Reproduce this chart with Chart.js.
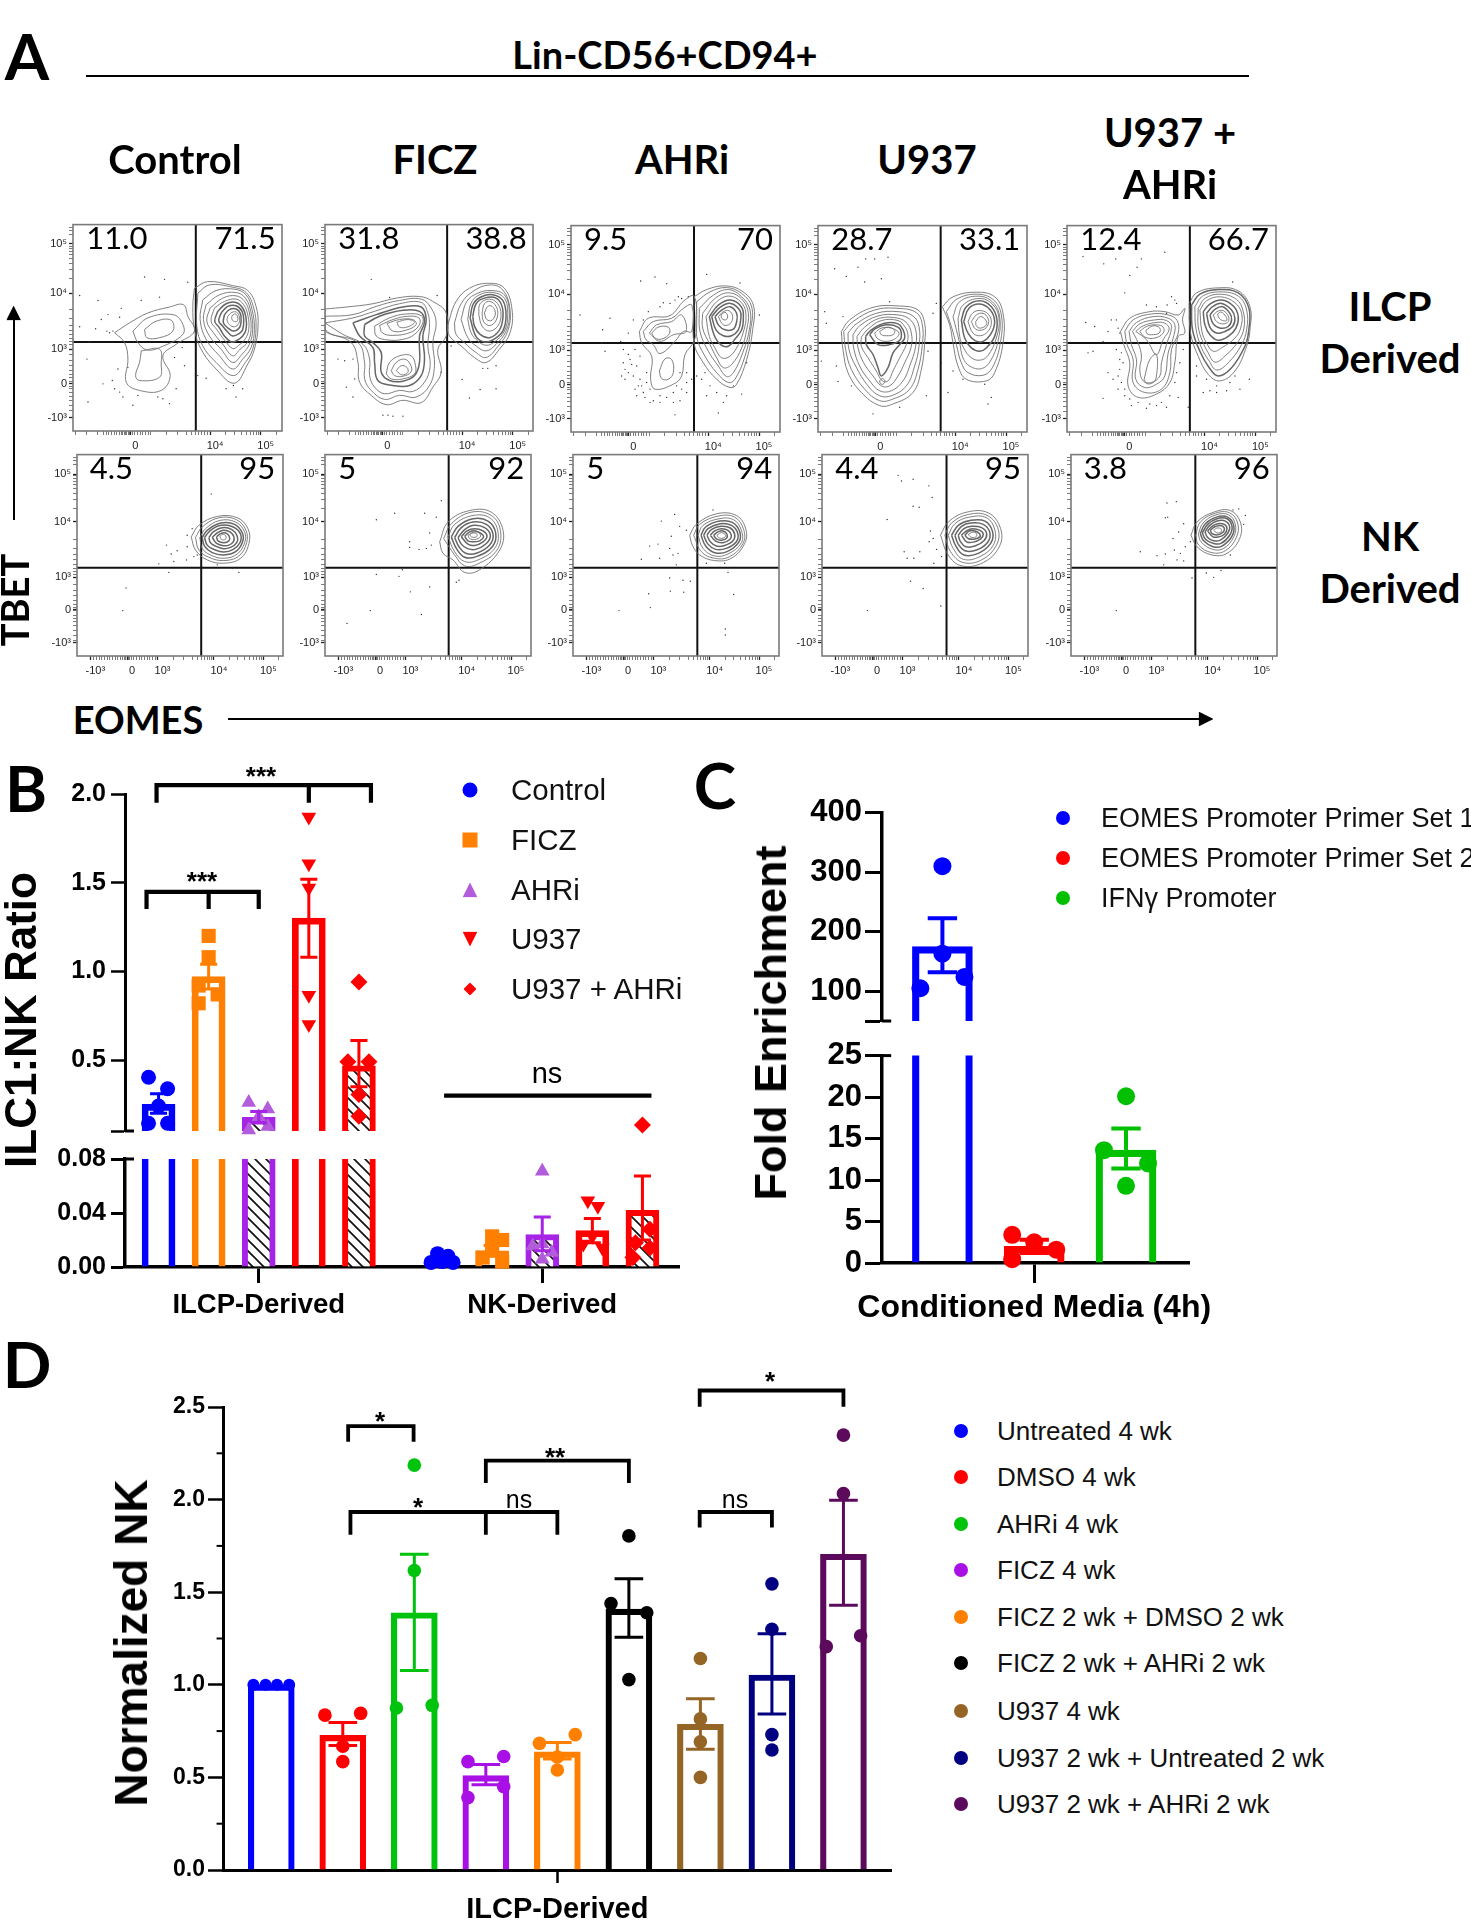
<!DOCTYPE html>
<html>
<head>
<meta charset="utf-8">
<title>ILC1 NK figure</title>
<script src="https://cdn.jsdelivr.net/npm/chart.js@4/dist/chart.umd.min.js"></script>
<style>
html, body { margin: 0; padding: 0; background: #fff; }
#page { position: relative; width: 1471px; height: 1920px; overflow: hidden; }
canvas { position: absolute; }
.t { position: absolute; white-space: nowrap; color: #000; transform: translate(-50%, -50%); }
.l { position: absolute; white-space: nowrap; color: #111; transform: translate(0, -50%); }
.m { position: absolute; transform: translate(-50%, -50%); }
.b { position: absolute; background: #000; }
</style>
</head>
<body>
<div id="page"></div>
<script>
// ---------- panel A: flow plots, values are channel units ----------
var conditions = ['Control', 'FICZ', 'AHRi', 'U937'];
var ilcpLeft = ['11.0', '31.8', '9.5', '28.7', '12.4'];
var ilcpRight = ['71.5', '38.8', '70', '33.1', '66.7'];
var nkLeft = ['4.5', '5', '5', '4.4', '3.8'];
var nkRight = ['95', '92', '94', '95', '96'];

var ilcpXTicks = [172, 412, 564];
var ilcpXLabels = ['0', '10⁴', '10⁵'];
var nkXTicks = [40, 150, 241, 410, 558];
var nkXLabels = ['-10³', '0', '10³', '10⁴', '10⁵'];
var ilcpYTicks = [58, 208, 378, 483, 585];
var nkYTicks = [60, 204, 372, 471, 572];
var flowYLabels = ['10⁵', '10⁴', '10³', '0', '-10³'];
var ilcpXMinor = [8, 42, 75, 92, 100, 108, 116, 124, 132, 140, 146, 150, 154, 158, 162, 166, 170, 178, 186, 194, 202, 210, 218, 226, 234, 280, 315, 340, 356, 368, 378, 386, 394, 403, 458, 485, 505, 520, 532, 542, 550, 557, 610];
var nkXMinor = [50, 58, 66, 74, 82, 90, 98, 106, 114, 122, 130, 136, 142, 146, 150, 154, 158, 162, 170, 178, 186, 194, 202, 210, 218, 226, 234, 290, 320, 345, 360, 372, 382, 390, 398, 404, 456, 482, 502, 516, 528, 538, 546, 552, 605];
var flowYMinor = [8, 18, 30, 65, 73, 81, 91, 103, 118, 137, 163, 258, 285, 305, 320, 333, 345, 355, 365, 395, 412, 428, 442, 455, 465, 475, 490, 498, 508, 520, 535, 550, 565];

// contour rings, flat x,y lists
var ilcpContours = [
  [
    [165,350,210,320,265,290,330,272,372,265,385,300,405,345,350,385,310,420,332,480,305,525,240,525,200,500,205,430,195,380],
    [220,345,265,305,340,295,368,320,370,355,300,395,262,402,235,380],
    [255,340,290,315,335,312,340,345,300,365,262,365],
    [245,405,300,400,305,445,300,485,240,495,228,480,240,440],
    [405,215,445,195,520,207,565,222,590,270,596,330,585,400,565,445,525,503,470,460,425,400,405,340,400,270],
    [415,230,450,205,520,212,560,228,583,275,590,335,580,400,558,440,522,480,470,440,430,390,412,330],
    [430,250,470,222,525,218,560,235,578,280,585,340,575,395,550,430,520,460,480,420,440,370,422,310],
    [440,265,480,235,530,228,558,245,574,285,580,340,570,385,548,415,520,440,485,400,450,360,432,310],
    [452,275,490,245,530,238,556,255,570,290,575,340,565,378,542,400,520,420,490,385,462,350,442,315],
    [465,275,495,255,530,248,553,265,566,300,568,340,558,368,538,388,520,398,495,372,472,340,455,315],
    [475,285,500,262,530,258,550,275,560,305,560,340,550,360,530,375,515,378,495,360,480,335,466,315],
    [485,290,505,270,530,268,548,285,553,310,550,340,540,352,520,360,505,348,490,330,478,315],
    [495,295,510,280,530,278,543,292,545,315,540,335,522,345,505,335,492,320],
    [505,300,518,288,532,288,540,302,538,322,525,332,510,325,503,312],
    [518,298,528,293,535,302,533,315,523,315,517,308]
  ],
  [
    [796,278,860,272,940,262,1010,245,1080,240,1120,255,1160,290,1160,360,1135,400,1145,470,1120,515,1085,562,1030,555,980,568,935,540,900,500,895,440,875,380,796,340],
    [796,300,880,295,950,270,1020,252,1085,248,1115,275,1130,320,1120,380,1125,450,1110,510,1070,545,1020,540,975,552,935,525,915,490,915,440,895,380,796,345],
    [796,320,880,305,945,285,1020,262,1085,258,1105,290,1110,330,1105,390,1112,450,1095,500,1060,528,1020,525,975,535,945,515,930,480,930,430,910,385,850,355],
    [880,320,950,295,1030,272,1085,272,1100,310,1090,360,1095,430,1085,480,1050,510,1000,510,955,495,945,440,940,395,900,360],
    [915,325,960,300,1030,282,1080,285,1095,315,1080,360,1080,440,1065,480,1030,497,990,495,965,470,965,410,940,380,915,360],
    [945,330,990,305,1040,293,1085,298,1090,320,1065,355,1030,370,985,372,950,360],
    [960,328,1000,310,1045,300,1078,305,1080,325,1055,348,1000,358,968,350],
    [982,322,1020,310,1060,310,1070,325,1040,342,1000,345],
    [1012,318,1045,310,1065,318,1045,332,1020,333],
    [980,475,990,440,1020,420,1055,420,1068,450,1065,475,1030,490,995,490],
    [995,465,1010,440,1035,430,1052,445,1055,468,1030,482,1005,480],
    [1010,465,1025,450,1042,455,1045,470,1028,478],
    [1165,325,1190,255,1230,215,1290,200,1335,215,1358,280,1352,350,1320,400,1280,440,1245,425,1205,390,1170,360],
    [1185,320,1205,262,1240,225,1290,205,1330,220,1352,280,1345,345,1315,392,1280,425,1250,410,1215,380,1190,355],
    [1205,310,1222,255,1255,230,1295,222,1335,235,1350,290,1340,345,1310,385,1280,405,1250,390,1225,365],
    [1225,310,1235,260,1260,235,1300,228,1335,245,1345,295,1335,345,1305,378,1280,388,1255,375,1235,350],
    [1232,305,1242,262,1268,240,1300,235,1330,252,1340,298,1330,345,1300,372,1275,378,1250,362],
    [1240,300,1250,262,1275,245,1310,245,1328,270,1330,310,1318,345,1290,365,1262,355,1245,330],
    [1258,295,1262,262,1290,248,1315,262,1325,295,1315,330,1290,345,1268,330],
    [1268,290,1275,262,1292,255,1310,270,1315,295,1305,320,1288,328,1272,315],
    [1275,290,1285,270,1298,270,1308,290,1298,312,1282,310]
  ],
  [
    [238,345,265,305,330,297,372,252,402,238,410,320,402,375,375,415,365,480,340,505,285,520,272,490,275,420,245,380],
    [250,345,280,315,335,305,370,275,395,265,395,345,370,345,345,375,300,412,280,385,258,370],
    [268,350,290,325,335,315,365,295,378,345,340,355,300,375],
    [275,350,295,332,325,332,328,352,305,368,285,365],
    [298,465,315,428,335,430,340,470,325,490,305,488],
    [402,240,440,218,495,207,545,222,580,265,578,340,560,430,530,505,510,515,470,490,430,440,402,380],
    [410,255,450,225,500,212,545,230,575,270,572,340,555,420,525,490,505,500,470,470,435,420,410,360],
    [418,275,460,235,505,218,545,240,570,280,568,340,548,410,520,470,500,482,475,450,445,405,420,345],
    [428,290,465,245,508,228,548,250,565,290,560,340,545,395,515,445,490,455,470,425,450,385,428,335],
    [438,300,470,255,510,238,548,262,558,300,552,340,535,385,510,420,485,425,465,395,448,360],
    [448,300,475,265,512,250,545,272,550,305,545,340,525,368,505,390,482,385,462,355],
    [455,300,480,272,512,260,540,282,542,310,535,340,515,358,490,358,468,340],
    [465,300,485,280,510,270,530,290,530,315,520,338,495,340,475,325],
    [475,300,490,285,507,282,518,300,510,322,490,325],
    [483,295,495,287,503,298,498,310,486,306]
  ],
  [
    [845,345,870,310,940,272,1020,268,1075,280,1095,320,1095,380,1085,460,1060,530,1000,565,960,570,905,530,865,470,850,400],
    [852,345,880,315,945,280,1015,275,1070,288,1088,325,1088,385,1075,460,1050,520,1000,550,960,555,915,520,875,460,858,400],
    [865,350,890,322,950,290,1015,285,1060,298,1078,330,1078,390,1065,450,1040,510,995,540,960,540,925,510,888,450,868,400],
    [880,355,900,328,955,298,1015,295,1050,308,1068,340,1068,390,1050,450,1030,495,995,525,960,525,930,495,900,450,882,395],
    [892,360,915,332,960,305,1015,305,1042,320,1055,350,1055,390,1035,440,1015,480,990,510,965,510,940,480,912,440,895,395],
    [905,362,925,338,965,312,1015,312,1035,330,1045,355,1040,385,1020,425,1000,465,985,495,968,495,950,465,925,425,905,390],
    [918,360,935,340,975,320,1015,322,1030,340,1035,365,1020,385,1000,410,985,455,965,480,955,455,940,415,920,385],
    [930,355,945,338,980,325,1015,332,1025,350,1020,372,990,385,955,385],
    [945,350,965,335,995,335,1018,350,1005,368,975,375,952,365],
    [960,345,985,332,1005,342,1000,355,980,358,965,355],
    [960,495,968,488,976,495,970,505,962,503],
    [1148,270,1180,240,1250,226,1305,240,1330,290,1330,380,1305,470,1280,495,1220,490,1195,450,1180,380,1170,325],
    [1160,285,1190,248,1250,232,1300,248,1325,295,1322,380,1298,455,1270,478,1225,470,1205,440,1190,385,1175,330],
    [1180,300,1200,255,1255,238,1298,255,1320,300,1315,375,1292,435,1265,458,1230,450,1210,425,1200,380],
    [1195,305,1210,265,1258,245,1298,262,1318,305,1310,365,1285,418,1262,432,1235,425,1212,395,1200,360],
    [1205,310,1220,270,1260,252,1295,270,1312,310,1305,360,1280,395,1260,405,1235,395,1215,365],
    [1212,315,1228,275,1260,262,1292,280,1305,315,1295,350,1270,375,1245,372,1225,350],
    [1225,315,1240,288,1265,282,1288,295,1295,320,1285,345,1262,358,1240,350],
    [1235,315,1250,295,1270,290,1285,305,1285,325,1270,340,1248,338],
    [1248,315,1262,300,1278,310,1280,325,1262,335,1250,328]
  ],
  [
    [212,345,240,305,300,285,345,285,385,295,405,275,398,310,405,350,385,360,375,440,360,500,320,535,265,545,235,510,240,440,222,385],
    [225,345,250,310,305,292,355,295,382,312,385,350,365,400,360,470,335,520,285,530,250,500,250,430,232,385],
    [238,345,260,318,310,300,355,305,375,325,370,365,355,410,345,480,320,505,285,515,258,490,260,430,245,385],
    [248,345,270,322,315,310,350,312,365,330,350,385,335,440,330,480,305,500,280,495,270,460,275,420,265,380],
    [258,345,280,328,318,318,345,320,358,338,340,370,320,415,290,370],
    [270,345,290,330,320,325,340,332,340,350,315,365,285,362],
    [288,342,310,328,330,335,328,350,305,355,292,352],
    [283,490,300,430,320,415,320,480,310,500,290,503],
    [418,260,440,228,500,213,565,222,600,270,600,340,590,390,555,465,510,495,475,475,445,420,422,350],
    [425,265,450,232,505,218,565,228,597,275,596,345,585,390,545,455,505,480,478,455,450,405,428,340],
    [435,270,458,238,510,225,565,238,590,280,590,340,575,385,535,440,500,462,478,435,455,395,438,335],
    [445,275,465,245,510,232,560,248,580,285,582,335,565,375,525,420,495,438,475,410,458,375,445,330],
    [450,280,470,252,512,240,555,258,575,290,572,335,555,365,515,395,490,405,470,380,456,345],
    [460,285,480,262,515,250,550,268,565,300,558,335,535,360,505,372,480,355,465,325],
    [470,290,488,270,515,260,545,280,555,305,548,330,525,345,500,350,480,332],
    [480,295,495,278,518,270,540,290,545,310,535,330,512,335,490,322],
    [490,295,505,283,520,282,535,298,535,315,520,322,500,315],
    [503,292,513,286,528,300,530,312,518,312,508,305]
  ]
];
var nkContours = [
  [
    [392,270,415,235,470,208,530,212,562,245,565,290,540,335,490,350,440,340,405,310],
    [405,272,425,240,475,212,528,218,556,250,558,288,535,328,490,342,445,332,415,310],
    [418,272,435,245,478,220,525,225,552,255,552,288,530,322,490,335,450,325,425,305],
    [425,272,440,250,480,228,522,232,546,260,545,288,525,315,490,325,455,318,432,298],
    [432,272,450,250,482,235,518,240,540,262,538,288,518,308,490,316,460,308,440,295],
    [445,272,458,255,485,242,514,248,530,268,528,288,510,302,488,306,465,298,450,288],
    [455,272,470,258,488,250,508,255,520,270,518,285,505,295,485,296,468,290],
    [468,270,480,260,495,258,506,268,505,282,490,288,472,282],
    [478,268,487,262,496,268,494,278,483,278]
  ],
  [
    [1140,285,1165,225,1230,190,1295,195,1330,250,1320,310,1260,370,1215,378,1180,340,1150,320],
    [1152,275,1175,230,1235,195,1295,205,1322,250,1312,310,1255,352,1215,358,1185,325],
    [1165,270,1185,232,1240,205,1290,212,1315,255,1305,305,1255,340,1215,345,1185,315],
    [1175,270,1195,238,1240,215,1285,222,1308,258,1298,300,1250,330,1215,332,1190,305],
    [1185,272,1205,242,1240,225,1280,232,1300,262,1290,295,1250,320,1218,320,1198,300],
    [1195,272,1215,248,1242,235,1275,242,1292,265,1280,290,1248,308,1222,305,1205,292],
    [1205,270,1222,252,1245,245,1270,252,1282,268,1270,285,1245,296,1225,292],
    [1215,268,1230,255,1248,252,1265,260,1272,270,1260,282,1240,285,1225,282],
    [1225,265,1240,256,1258,258,1262,270,1245,278,1230,275],
    [1230,263,1240,258,1252,262,1250,270,1235,270]
  ],
  [
    [390,265,410,232,470,200,530,205,558,245,555,290,515,335,465,342,420,325,398,295],
    [402,265,420,232,475,207,525,210,552,248,550,290,510,330,465,335,425,315],
    [415,265,430,235,478,215,522,218,545,250,545,288,505,322,465,328,430,305],
    [424,265,438,240,480,222,518,226,540,254,538,285,502,315,465,318,438,298],
    [432,265,445,245,482,230,515,235,534,258,530,285,500,305,468,308,445,292],
    [442,265,455,248,484,238,512,243,525,262,520,282,495,296,470,298,452,285],
    [452,265,465,252,485,245,505,250,515,265,510,278,490,288,468,283],
    [462,265,475,255,490,252,502,262,500,275,485,280,470,276],
    [472,265,486,257,498,266,490,274,476,272]
  ],
  [
    [1142,265,1165,225,1220,195,1285,197,1322,245,1318,300,1270,348,1205,358,1165,325],
    [1155,265,1175,228,1225,202,1282,205,1315,248,1308,298,1265,340,1210,348,1172,315],
    [1165,265,1185,230,1228,210,1280,212,1305,250,1300,295,1260,330,1210,338,1180,305],
    [1175,265,1195,235,1230,220,1275,222,1298,255,1292,290,1255,320,1212,325,1188,298],
    [1185,265,1205,238,1232,228,1270,232,1290,258,1282,288,1250,310,1215,312,1195,292],
    [1195,265,1212,245,1235,238,1265,242,1280,260,1272,282,1245,298,1218,300,1202,285],
    [1205,265,1222,250,1238,245,1260,250,1270,262,1262,276,1240,286,1220,285],
    [1215,265,1228,252,1245,252,1258,260,1260,270,1242,277,1225,275],
    [1225,263,1236,256,1248,258,1250,268,1236,272]
  ],
  [
    [422,265,440,225,490,195,540,190,570,225,568,275,530,320,485,325,440,300],
    [436,265,450,225,495,198,538,197,562,228,558,272,525,312,485,318,445,295],
    [444,262,458,228,497,203,535,203,555,232,550,270,520,305,487,308,452,285],
    [450,260,465,230,498,210,532,210,550,235,545,268,515,298,488,300,460,282],
    [456,258,472,232,500,215,530,215,545,238,538,265,512,290,490,290,466,278],
    [464,255,478,235,500,222,525,222,538,240,530,262,510,280,490,282,472,272],
    [472,252,485,238,502,230,522,232,530,245,522,262,505,270,488,270],
    [480,250,492,240,504,236,518,238,522,250,512,260,498,264,485,260],
    [490,250,500,243,512,246,512,255,500,258]
  ]
];
var ilcpDots = [
  [60,237,115,252,255,181,315,188,385,197,300,242,245,252,185,276,145,295,180,303,125,310,60,332,108,338,142,345,150,350,160,345,88,378,82,430,175,460,205,455,158,495,165,520,180,530,130,505,190,545,220,570,295,545,310,550,330,565,235,540,350,520,375,450,345,425,368,395,415,480,440,488,500,520,530,545,550,520,522,510,85,560,288,648],
  [935,188,990,243,1133,237,835,430,855,435,880,430,885,490,860,515,880,545,970,600,985,600,1000,603,1030,603,1208,492,1230,548,1262,522,1310,520,1270,458,1285,458,1310,450,1145,470,1175,390],
  [242,192,285,180,320,200,440,172,60,295,150,305,128,340,182,375,125,380,135,405,205,350,220,310,265,285,310,258,355,240,210,430,190,440,205,470,195,490,235,510,225,400,240,420,230,450,260,470,250,530,270,560,300,540,345,598,340,560,360,555,380,500,425,490,440,540,475,592,520,510,545,535,540,198,598,295,560,440,490,560,190,400,205,415,215,445,195,460,185,480,220,480,240,490,260,500,225,520,245,510,270,520,230,540,255,545,280,555,300,560,320,545,340,530,350,510,365,520,380,530,395,490,410,480,380,470,360,470,435,470,450,510,470,530,500,540,250,310,300,270,330,260,345,250,365,245,385,240],
  [945,125,985,120,918,125,895,150,825,155,860,178,915,195,965,185,990,255,800,320,850,300,1130,260,795,285,1120,290,785,435,830,450,835,497,875,510,1100,540,940,595,1020,575,1165,530,1210,490,1275,505,1295,545,1285,565,1180,465,1145,440,1105,405],
  [100,118,162,140,198,125,275,125,345,105,240,175,262,150,225,228,108,318,135,330,185,310,205,335,160,375,130,405,115,410,175,470,160,548,210,430,205,480,225,520,245,570,290,578,350,575,385,545,415,575,440,450,470,490,500,530,530,525,570,520,598,490,548,195,375,250,352,265,200,310,210,350,175,345,200,400,215,410,220,440,210,460,190,490,215,500,205,520,225,540,240,550,265,560,300,565,320,570,335,560,360,540,375,500,380,470,390,440,400,400,440,480,460,530,480,525,500,510,540,500,555,480,380,260,365,240,350,290,320,270,290,265]
];
var nkDots = [
  [452,140,395,245,380,265,318,295,332,322,350,312,295,352,340,345,378,340,325,378,197,425,187,494,535,378,515,365,470,355,410,325,400,330,380,300],
  [950,218,1005,198,1095,198,1130,210,1145,160,1110,258,1050,285,1050,302,1078,308,1100,305,1115,295,950,384,1018,390,1028,370,1052,437,1110,422,1085,506,862,533,932,494,1190,408,1198,402],
  [460,188,345,202,305,222,360,238,380,250,335,268,295,292,270,298,245,338,330,305,340,325,355,320,300,335,350,355,330,395,370,402,392,405,332,435,267,443,372,438,272,485,178,494,505,378,522,445,497,550,497,568,440,350,495,350],
  [1015,83,1025,100,1060,95,1107,115,1117,150,1060,177,1078,180,982,217,1112,252,1120,275,1108,285,1033,315,1042,335,1062,335,1080,315,1130,308,1145,330,1122,350,1052,405,1090,427,1143,480,923,494],
  [350,167,378,163,345,212,352,210,400,230,385,255,368,275,270,315,320,327,345,322,372,310,390,320,405,300,420,285,340,355,380,340,400,343,425,395,468,380,490,393,512,372,198,494,548,188,565,185,585,205,580,232,540,325]
];

// ---------- panel B ----------
var bGroups = ['Control', 'FICZ', 'AHRi', 'U937', 'U937 + AHRi'];
var bSlots = [0, 1, 2, 3, 4, 5.66, 6.66, 7.66, 8.66, 9.66];
var bMeans = [0.25, 0.97, 0.177, 1.30, 0.468, 0.006, 0.012, 0.024, 0.027, 0.042];
var bErrLow = [0.2, 0.9, 0.145, 1.08, 0.35, 0.004, 0.008, 0.012, 0.018, 0.02];
var bErrHigh = [0.31, 1.04, 0.21, 1.52, 0.61, 0.008, 0.016, 0.037, 0.036, 0.0675];
// one list per bar, [offset from bar centre, value]
var bPoints = [
  [[-0.2, 0.403], [0.18, 0.338], [0, 0.241], [-0.2, 0.144], [0.18, 0.144]],
  [[0, 1.2], [0, 1.08], [-0.2, 0.92], [0.18, 0.87], [-0.2, 0.82]],
  [[-0.2, 0.26], [0.18, 0.224], [0, 0.18], [0.18, 0.125], [-0.2, 0.105]],
  [[0, 1.87], [0, 1.607], [0, 1.47], [0, 0.866], [0, 0.7]],
  [[0, 0.94], [-0.22, 0.49], [0.2, 0.49], [0, 0.306], [0, 0.183]],
  [[-0.09, 0.0099], [0.12, 0.008], [-0.22, 0.0034], [0.22, 0.0034], [0, 0.004]],
  [[0, 0.0227], [0.2, 0.02], [0, 0.0128], [-0.19, 0.007], [0.2, 0.004]],
  [[0, 0.071], [0, 0.017], [-0.19, 0.0156], [0.19, 0.011], [0, 0.0057]],
  [[-0.09, 0.049], [0.11, 0.045], [0, 0.0227], [-0.18, 0.017], [0.2, 0.014]],
  [[0, 0.134], [0.15, 0.028], [-0.14, 0.018], [0.15, 0.014], [-0.19, 0.007]]
];
var bBarColors = ['#0000ff', '#ff8000', '#a524e6', '#ff0000', '#ff0000', '#0000ff', '#ff8000', '#a524e6', '#ff0000', '#ff0000'];
var bPointColors = ['#0000ff', '#ff8000', '#b35cdb', '#ff0000', '#ff0000', '#0000ff', '#ff8000', '#b35cdb', '#ff0000', '#ff0000'];
var bUpperTicks = [0.1, 0.5, 1, 1.5, 2];
var bUpperLabels = ['', '0.5', '1.0', '1.5', '2.0'];
var bLowerTicks = [0, 0.04, 0.08];
var bLowerLabels = ['0.00', '0.04', '0.08'];
var bXTicks = [2, 7.66];
var bXLabels = ['ILCP-Derived', 'NK-Derived'];

// ---------- panel C ----------
var cSeries = ['EOMES Promoter Primer Set 1', 'EOMES Promoter Primer Set 2', 'IFNγ Promoter'];
var cSlots = [0, 1, 2];
var cMeans = [175, 2, 13.6];
var cErrLow = [132, 1.2, 11.4];
var cErrHigh = [222.6, 2.8, 16.2];
var cPoints = [
  [[0, 310], [0, 163], [0.24, 124], [-0.24, 105]],
  [[-0.24, 3.4], [0, 2.5], [0.24, 1.6], [-0.24, 0.46]],
  [[0, 20.1], [-0.24, 13.6], [0.24, 12], [0, 9.3]]
];
var cColors = ['#0000ff', '#ff0000', '#00c000'];
var cUpperTicks = [50, 100, 200, 300, 400];
var cUpperLabels = ['', '100', '200', '300', '400'];
var cLowerTicks = [0, 5, 10, 15, 20, 25];
var cXTicks = [1];
var cXLabels = ['Conditioned Media (4h)'];

// ---------- panel D ----------
var dSeries = ['Untreated 4 wk', 'DMSO 4 wk', 'AHRi 4 wk', 'FICZ 4 wk', 'FICZ 2 wk + DMSO 2 wk', 'FICZ 2 wk + AHRi 2 wk', 'U937 4 wk', 'U937 2 wk + Untreated 2 wk', 'U937 2 wk + AHRi 2 wk'];
var dSlots = [0, 1, 2, 3, 4, 5, 6, 7, 8];
var dMeans = [1, 0.727, 1.389, 0.51, 0.638, 1.409, 0.787, 1.053, 1.705];
var dErrLow = [1, 0.672, 1.077, 0.46, 0.6, 1.257, 0.652, 0.842, 1.429];
var dErrHigh = [1, 0.796, 1.705, 0.569, 0.688, 1.573, 0.925, 1.275, 1.996];
var dPoints = [
  [[-0.25, 1], [-0.08, 1], [0.08, 1], [0.25, 1]],
  [[-0.25, 0.836], [0.25, 0.846], [0, 0.668], [0, 0.585]],
  [[0, 2.186], [0, 1.617], [-0.25, 0.875], [0.25, 0.889]],
  [[0.25, 0.613], [-0.25, 0.585], [0.25, 0.45], [-0.25, 0.391]],
  [[0.25, 0.731], [-0.25, 0.684], [0, 0.61], [0, 0.54]],
  [[0, 1.804], [-0.25, 1.439], [0.25, 1.389], [0, 1.028]],
  [[0, 1.142], [0, 0.816], [0, 0.692], [0, 0.5]],
  [[0, 1.545], [0, 1.3], [0, 0.731], [0, 0.648]],
  [[0, 2.348], [0, 2.032], [0.24, 1.265], [-0.24, 1.206]]
];
var dColors = ['#0000ff', '#ff0000', '#00c30e', '#a810e6', '#ff8000', '#000000', '#956526', '#000080', '#5c0a5c'];
var dTicks = [0, 0.5, 1, 1.5, 2, 2.5];
var dLabels = ['0.0', '0.5', '1.0', '1.5', '2.0', '2.5'];
var dMinorTicks = [0.25, 0.75, 1.25, 1.75, 2.25];
var dXTicks = [4];
var dXLabels = ['ILCP-Derived'];

// significance brackets: left, optional middle, right, bar level, foot level
var bBrackets = [[-0.24, 1, 2, 1.448, 1.351], [-0.04, 3, 4.24, 2.05, 1.95], [5.7, null, 9.84, 0.3, 0.3]];
var dBrackets = [
  [1.075, null, 1.99, 2.397, 2.312],
  [3, null, 5, 2.21, 2.09],
  [1.107, 3, 4, 1.933, 1.81],
  [5.99, null, 7, 1.933, 1.85],
  [5.99, null, 8, 2.589, 2.502]
];

// ---------- helpers ----------
var page = document.getElementById('page');
var SANS = '"Liberation Sans", Arial, sans-serif';
var LATO = 'Lato, sans-serif';
Chart.defaults.font.family = SANS;
Chart.defaults.animation = false;
Chart.defaults.plugins.legend.display = false;
Chart.defaults.plugins.tooltip.enabled = false;

function text(str, x, y, size, weight, font, extra) {
  var d = document.createElement('div');
  d.className = 't';
  d.textContent = str;
  d.style.cssText = 'left:' + x + 'px;top:' + y + 'px;font:' + weight + ' ' + size + 'px ' + font + ';' + (extra || '');
  page.appendChild(d);
}
function sideText(str, x, y, size, extra) {
  var d = document.createElement('div');
  d.className = 'l';
  d.textContent = str;
  d.style.cssText = 'left:' + x + 'px;top:' + y + 'px;font:400 ' + size + 'px ' + SANS + ';' + (extra || '');
  page.appendChild(d);
}
function rect(x, y, w, h) {
  var d = document.createElement('div');
  d.className = 'b';
  d.style.cssText = 'left:' + x + 'px;top:' + y + 'px;width:' + w + 'px;height:' + h + 'px';
  page.appendChild(d);
}
function marker(shape, color, x, y, size) {
  var d = document.createElement('div');
  d.className = 'm';
  var s = 'left:' + x + 'px;top:' + y + 'px;width:' + size + 'px;height:' + size + 'px;background:' + color + ';';
  if (shape === 'circle') s += 'border-radius:50%;';
  if (shape === 'up') s += 'clip-path:polygon(50% 0,100% 100%,0 100%);';
  if (shape === 'down') s += 'clip-path:polygon(0 0,100% 0,50% 100%);';
  if (shape === 'diamond') s += 'clip-path:polygon(50% 0,100% 50%,50% 100%,0 50%);';
  d.style.cssText = s;
  page.appendChild(d);
}
function addCanvas(x, y, w, h) {
  var c = document.createElement('canvas');
  c.width = w;
  c.height = h;
  c.style.left = x + 'px';
  c.style.top = y + 'px';
  c.style.width = w + 'px';
  c.style.height = h + 'px';
  page.appendChild(c);
  return c.getContext('2d');
}
function pairs(flat) {
  var out = [];
  for (var i = 0; i < flat.length; i += 2) out.push({ x: flat[i], y: flat[i + 1] });
  return out;
}

// ---------- panel A drawing ----------
var frameBox = {
  id: 'frameBox',
  afterDatasetsDraw: function (chart) {
    var a = chart.chartArea, ctx = chart.ctx;
    ctx.save();
    ctx.strokeStyle = '#7a7a7a';
    ctx.lineWidth = 1.6;
    ctx.strokeRect(a.left, a.top, a.right - a.left, a.bottom - a.top);
    ctx.restore();
  }
};

// rings that read darker in the plots
var ilcpDense = [[10, 11, 12], [3, 4, 16, 17], [10, 11, 12], [6, 7, 15, 16], [9, 13, 14, 15]];
var nkDense = [3, 4, 5, 6, 7];

function flowPlot(cropX, cropY, chan, gate, rings, dots, dense, xMajor, xLabels, xMinor, yMajor, left, right) {
  var x0 = chan[0], x1 = chan[1], y0 = chan[2], y1 = chan[3];
  var px = cropX + x0 / 3, py = cropY + y0 / 3;
  var pw = (x1 - x0) / 3, ph = (y1 - y0) / 3;
  var yW = 38, xH = 24, pad = 6;
  var ctx = addCanvas(Math.round(px - yW), Math.round(py - pad), Math.round(pw + yW + pad), Math.round(ph + pad + xH));
  var ds = [];
  rings.forEach(function (r, i) {
    var pts = pairs(r);
    pts.push(pts[0]);
    var heavy = dense.indexOf(i) >= 0;
    ds.push({ data: pts, showLine: true, tension: 0.4, borderColor: heavy ? '#666' : '#727272', borderWidth: heavy ? 1.5 : 0.9, pointRadius: 0 });
  });
  ds.push({ data: pairs(dots), pointRadius: 0.7, pointBackgroundColor: '#333', pointBorderWidth: 0 });
  ds.push({ data: pairs([gate[0], y0, gate[0], y1]), showLine: true, borderColor: '#111', borderWidth: 2, pointRadius: 0, tension: 0 });
  ds.push({ data: pairs([x0, gate[1], x1, gate[1]]), showLine: true, borderColor: '#111', borderWidth: 2, pointRadius: 0, tension: 0 });
  var xVals = xMajor.concat(xMinor).map(function (v) { return x0 + v; });
  var yVals = yMajor.concat(flowYMinor).map(function (v) { return y0 + v; });
  function tickWidth(n) { return function (c) { return c.index < n ? 1.3 : 0.6; }; }
  new Chart(ctx, {
    type: 'scatter',
    data: { datasets: ds },
    options: {
      responsive: false,
      events: [],
      layout: { padding: { top: pad, right: pad } },
      scales: {
        x: {
          type: 'linear', min: x0, max: x1,
          afterBuildTicks: function (s) { s.ticks = xVals.map(function (v) { return { value: v }; }); },
          afterFit: function (s) { s.height = xH; },
          border: { display: false },
          grid: { drawOnChartArea: false, tickLength: 4, tickColor: '#222', tickWidth: tickWidth(xMajor.length) },
          ticks: {
            autoSkip: false, maxRotation: 0, minRotation: 0, color: '#222', padding: 4, labelOffset: 5,
            font: { size: 11 },
            callback: function (v, i) { return i < xLabels.length ? xLabels[i] : ''; }
          }
        },
        y: {
          type: 'linear', min: y0, max: y1, reverse: true,
          afterBuildTicks: function (s) { s.ticks = yVals.map(function (v) { return { value: v }; }); },
          afterFit: function (s) { s.width = yW; },
          border: { display: false },
          grid: { drawOnChartArea: false, tickLength: 4, tickColor: '#222', tickWidth: tickWidth(yMajor.length) },
          ticks: {
            autoSkip: false, color: '#222', padding: 2,
            font: { size: 11 },
            callback: function (v, i) { return i < flowYLabels.length ? flowYLabels[i] : ''; }
          }
        }
      }
    },
    plugins: [frameBox]
  });
  // gate percentages
  text(left, px + 13, py + 15, 31, 400, LATO, 'transform:translate(0,-50%);');
  text(right, px + pw - 7, py + 15, 31, 400, LATO, 'transform:translate(-100%,-50%);');
}

var ilcpPanels = [
  [60, 215, [40, 668, 22, 648], [409, 378]],
  [60, 215, [796, 1421, 22, 648], [1163, 378]],
  [560, 215, [33, 660, 24, 650], [402, 380]],
  [560, 215, [775, 1402, 24, 650], [1143, 380]],
  [1050, 215, [52, 678, 24, 650], [420, 380]]
];
var nkPanels = [
  [60, 445, [50, 667, 20, 632], [422, 364]],
  [60, 445, [796, 1414, 20, 632], [1167, 364]],
  [560, 445, [40, 658, 20, 632], [413, 364]],
  [560, 445, [787, 1404, 20, 632], [1160, 364]],
  [1050, 445, [62, 680, 20, 632], [435, 364]]
];
ilcpPanels.forEach(function (p, i) {
  flowPlot(p[0], p[1], p[2], p[3], ilcpContours[i], ilcpDots[i], ilcpDense[i], ilcpXTicks, ilcpXLabels, ilcpXMinor, ilcpYTicks, ilcpLeft[i], ilcpRight[i]);
});
nkPanels.forEach(function (p, i) {
  flowPlot(p[0], p[1], p[2], p[3], nkContours[i], nkDots[i], nkDense, nkXTicks, nkXLabels, nkXMinor, nkYTicks, nkLeft[i], nkRight[i]);
});

text('A', 27, 55, 64, 700, LATO);
text('Lin-CD56+CD94+', 665, 54, 38, 700, LATO);
rect(86, 75, 1163, 1.5);
var titleX = [175, 435, 682, 927];
conditions.forEach(function (c, i) { text(c, titleX[i], 159, 40, 700, LATO); });
text('U937 +', 1170, 132, 40, 700, LATO);
text('AHRi', 1170, 184, 40, 700, LATO);
text('ILCP', 1390, 306, 40, 700, LATO);
text('Derived', 1390, 358, 40, 700, LATO);
text('NK', 1390, 536, 40, 700, LATO);
text('Derived', 1390, 588, 40, 700, LATO);
text('TBET', 14, 600, 38, 700, LATO, 'transform:translate(-50%,-50%) rotate(-90deg);');
text('EOMES', 138, 719, 38, 700, LATO);
rect(12.6, 318, 2, 202);
marker('up', '#000', 13.6, 313, 15);
rect(228, 718, 974, 2);
marker('down', '#000', 1206, 719, 15);
page.lastChild.style.transform = 'translate(-50%,-50%) rotate(-90deg)';

// ---------- bar panes (B, C, D) ----------
function hatchPattern() {
  var c = document.createElement('canvas');
  c.width = 11;
  c.height = 11;
  var g = c.getContext('2d');
  g.fillStyle = '#fff';
  g.fillRect(0, 0, 11, 11);
  g.strokeStyle = '#111';
  g.lineWidth = 1.7;
  g.beginPath();
  g.moveTo(-2, -2); g.lineTo(13, 13);
  g.moveTo(-2, 9); g.lineTo(2, 13);
  g.moveTo(9, -2); g.lineTo(13, 2);
  g.stroke();
  return g.createPattern(c, 'repeat');
}
function lineSet(pts, color, width) {
  return { type: 'scatter', data: pts, showLine: true, borderColor: color, borderWidth: width, pointRadius: 0, tension: 0, clip: false, order: 1, borderCapStyle: 'butt' };
}
function errorSet(x, lo, hi, cap, color, width) {
  return lineSet([
    { x: x - cap, y: hi }, { x: x + cap, y: hi }, { x: NaN, y: NaN },
    { x: x, y: hi }, { x: x, y: lo }, { x: NaN, y: NaN },
    { x: x - cap, y: lo }, { x: x + cap, y: lo }
  ], color, width);
}
function bracketSet(width) {
  return function (b) {
    var pts = [{ x: b[0], y: b[4] }, { x: b[0], y: b[3] }, { x: b[2], y: b[3] }, { x: b[2], y: b[4] }];
    if (b[1] !== null) pts.push({ x: NaN, y: NaN }, { x: b[1], y: b[3] }, { x: b[1], y: b[4] });
    return lineSet(pts, '#000', width);
  };
}
function pointSet(pts, style, rotation, radius, color) {
  return { type: 'scatter', data: pts, pointStyle: style, pointRotation: rotation, pointRadius: radius, pointBackgroundColor: color, pointBorderWidth: 0, clip: false, order: 2 };
}
function barSet(xs, ys, colors, fills, thickness, border) {
  return {
    type: 'bar',
    data: xs.map(function (x, i) { return { x: x, y: ys[i] }; }),
    borderColor: colors,
    backgroundColor: fills,
    borderWidth: border,
    barThickness: thickness,
    order: 3
  };
}
function pane(o) {
  var yW = 110, padT = o.padT, padB = o.padB || 0, padR = o.padR || 45, xH = o.xLabels ? o.xH : 0;
  var ctx = addCanvas(o.l - yW, o.t - padT, o.r - o.l + yW + padR, o.b - o.t + padT + padB + xH);
  var scales = {
    x: {
      type: 'linear', min: o.xMin, max: o.xMax, offset: false, display: !!o.xLabels,
      afterBuildTicks: function (s) { s.ticks = (o.xTicks || []).map(function (v) { return { value: v }; }); },
      afterFit: function (s) { s.height = xH; },
      border: { color: '#000', width: o.axisW },
      grid: { offset: false, drawOnChartArea: false, tickLength: o.xTickLen, tickColor: '#000', tickWidth: o.axisW - 0.5 },
      ticks: {
        autoSkip: false, maxRotation: 0, minRotation: 0, color: '#000', padding: o.xPad,
        font: { size: o.xFont, weight: 'bold' },
        callback: function (v, i) { return o.xLabels ? o.xLabels[i] : ''; }
      }
    },
    y: {
      type: 'linear', min: o.yTicks[0], max: o.yTicks[o.yTicks.length - 1],
      afterBuildTicks: function (s) { s.ticks = o.yTicks.map(function (v) { return { value: v }; }); },
      afterFit: function (s) { s.width = yW; },
      border: { color: '#000', width: o.axisW },
      grid: { drawOnChartArea: false, tickLength: o.yTickLen, tickColor: '#000', tickWidth: o.axisW - 0.5 },
      ticks: {
        autoSkip: false, color: '#000', padding: o.yPad || 3,
        font: { size: o.yFont, weight: 'bold' },
        callback: function (v, i) { return o.yLabels[i]; }
      }
    }
  };
  new Chart(ctx, {
    type: 'bar',
    data: { datasets: o.datasets },
    options: {
      responsive: false,
      events: [],
      layout: { padding: { top: padT, bottom: padB, right: padR } },
      scales: scales
    }
  });
}
function capSet(xMin, y, dx) {
  return lineSet([{ x: xMin, y: y }, { x: xMin + dx, y: y }], '#000', 3);
}

// panel B
var hatch = hatchPattern();
var bShapes = ['circle', 'rect', 'triangle', 'triangle', 'rectRot'];
var bRot = [0, 0, 0, 180, 0];
var bRad = [7.5, 10, 8.5, 8.5, 8.5];
var bFills = bSlots.map(function (s, i) { return i % 5 === 2 || i % 5 === 4 ? hatch : 'rgba(0,0,0,0)'; });
function bDatasets(upper) {
  var keep = function (v) { return upper ? v >= 0.1 : v < 0.1; };
  var idx = bSlots.map(function (s, i) { return i; }).filter(function (i) { return upper ? bMeans[i] > 0.1 : true; });
  var ds = [barSet(idx.map(function (i) { return bSlots[i]; }), idx.map(function (i) { return bMeans[i]; }),
    idx.map(function (i) { return bBarColors[i]; }), idx.map(function (i) { return bFills[i]; }), 33, 6)];
  bSlots.forEach(function (s, i) {
    var pts = bPoints[i].filter(function (p) { return keep(p[1]); }).map(function (p) { return { x: s + p[0], y: p[1] }; });
    ds.push(pointSet(pts, bShapes[i % 5], bRot[i % 5], bRad[i % 5], bPointColors[i]));
    if (keep(bErrHigh[i])) ds.push(errorSet(s, bErrLow[i], bErrHigh[i], 0.17, bBarColors[i], 3));
  });
  return ds;
}
var bX = { l: 125, r: 679, xMin: -0.67, xMax: 10.39 };
pane({
  l: bX.l, r: bX.r, xMin: bX.xMin, xMax: bX.xMax, t: 794, b: 1131, padT: 40, padB: 24, axisW: 3, yTickLen: 14, xTickLen: 0, yFont: 25, yPad: 5,
  yTicks: bUpperTicks, yLabels: bUpperLabels,
  datasets: bDatasets(true).concat(bBrackets.map(bracketSet(4.2)), [capSet(bX.xMin, 0.1, 0.18)])
});
pane({
  l: bX.l, r: bX.r, xMin: bX.xMin, xMax: bX.xMax, t: 1159, b: 1267, padT: 20, axisW: 3.5, yTickLen: 14, xTickLen: 16, yFont: 25, yPad: 5, xFont: 27.5, xH: 60, xPad: 6,
  yTicks: bLowerTicks, yLabels: bLowerLabels, xTicks: bXTicks, xLabels: bXLabels,
  datasets: bDatasets(false).concat([capSet(bX.xMin, 0.08, 0.18)])
});
text('B', 26, 787, 64, 700, LATO);
text('ILC1:NK Ratio', 21, 1020, 44, 700, SANS, 'transform:translate(-50%,-50%) rotate(-90deg);');
text('***', 261, 776, 26, 700, SANS);
text('***', 202, 881, 26, 700, SANS);
text('ns', 547, 1073, 29, 400, SANS);
var bLegendY = [790, 840, 890, 939, 989];
var bLegendShape = ['circle', 'rect', 'up', 'down', 'diamond'];
var bLegendSize = [15, 15, 15, 15, 13];
var bLegendColor = ['#0000ff', '#ff8000', '#b35cdb', '#ff0000', '#ff0000'];
bGroups.forEach(function (g, i) {
  marker(bLegendShape[i], bLegendColor[i], 470, bLegendY[i], bLegendSize[i]);
  sideText(g, 511, bLegendY[i], 29.5);
});

// panel C
function cDatasets(upper) {
  var keep = function (v) { return upper ? v >= 25 : v < 25; };
  var idx = cSlots.filter(function (s) { return upper ? cMeans[s] > 50 : true; });
  var ds = [barSet(idx, idx.map(function (i) { return cMeans[i]; }), idx.map(function (i) { return cColors[i]; }), idx.map(function () { return 'rgba(0,0,0,0)'; }), 60, 6.5)];
  cSlots.forEach(function (s) {
    var pts = cPoints[s].filter(function (p) { return keep(p[1]); }).map(function (p) { return { x: s + p[0], y: p[1] }; });
    ds.push(pointSet(pts, 'circle', 0, 9, cColors[s]));
    if (keep(cErrHigh[s])) ds.push(errorSet(s, cErrLow[s], cErrHigh[s], 0.16, cColors[s], 4));
  });
  return ds;
}
var cX = { l: 882, r: 1189, xMin: -0.658, xMax: 2.686 };
pane({
  l: cX.l, r: cX.r, xMin: cX.xMin, xMax: cX.xMax, t: 811, b: 1021, padT: 20, padB: 24, axisW: 3.5, yTickLen: 17, xTickLen: 0, yFont: 31,
  yTicks: cUpperTicks, yLabels: cUpperLabels,
  datasets: cDatasets(true).concat([capSet(cX.xMin, 50, 0.1)])
});
pane({
  l: cX.l, r: cX.r, xMin: cX.xMin, xMax: cX.xMax, t: 1054, b: 1263, padT: 20, padR: 90, axisW: 3.5, yTickLen: 17, xTickLen: 20, yFont: 31, xFont: 32, xH: 66, xPad: 6,
  yTicks: cLowerTicks, yLabels: cLowerTicks.map(String), xTicks: cXTicks, xLabels: cXLabels,
  datasets: cDatasets(false).concat([capSet(cX.xMin, 25, 0.1)])
});
text('C', 715, 784, 64, 700, LATO);
text('Fold Enrichment', 771, 1023, 45, 700, SANS, 'transform:translate(-50%,-50%) rotate(-90deg);');
var cLegendY = [818, 858, 898];
cSeries.forEach(function (g, i) {
  marker('circle', cColors[i], 1063, cLegendY[i], 14);
  sideText(g, 1101, cLegendY[i], 27);
});

// panel D
var dDatasets = [barSet(dSlots, dMeans, dColors, dSlots.map(function () { return 'rgba(0,0,0,0)'; }), 46, 5.5)];
dSlots.forEach(function (s) {
  var pts = dPoints[s].map(function (p) { return { x: s + p[0], y: p[1] }; });
  dDatasets.push(pointSet(pts, 'circle', 0, s === 0 ? 6 : 6.8, dColors[s]));
  if (dErrHigh[s] > dErrLow[s]) dDatasets.push(errorSet(s, dErrLow[s], dErrHigh[s], 0.2, dColors[s], 3));
});
var dXMin = -0.675;
dMinorTicks.forEach(function (v) {
  dDatasets.push(lineSet([{ x: dXMin - 0.09, y: v }, { x: dXMin, y: v }], '#000', 2));
});
pane({
  l: 223, r: 891, xMin: dXMin, xMax: 8.665, t: 1407, b: 1870, padT: 25, axisW: 3, yTickLen: 15, xTickLen: 13, yFont: 23, xFont: 29, xH: 50, xPad: 10,
  yTicks: dTicks, yLabels: dLabels, xTicks: dXTicks, xLabels: dXLabels,
  datasets: dDatasets.concat(dBrackets.map(bracketSet(3.8)))
});
text('D', 27, 1363, 64, 700, LATO);
text('Normalized NK', 131, 1643, 46, 700, SANS, 'transform:translate(-50%,-50%) rotate(-90deg);');
text('*', 380, 1421, 26, 700, SANS);
text('**', 555, 1457, 26, 700, SANS);
text('*', 418, 1507, 26, 700, SANS);
text('ns', 519, 1499, 25, 400, SANS);
text('ns', 735, 1499, 25, 400, SANS);
text('*', 770, 1381, 26, 700, SANS);
var dLegendY = [1431, 1477, 1524, 1570, 1617, 1663, 1711, 1758, 1804];
dSeries.forEach(function (g, i) {
  marker('circle', dColors[i], 961, dLegendY[i], 14);
  sideText(g, 997, dLegendY[i], 26);
});
</script>
</body>
</html>
